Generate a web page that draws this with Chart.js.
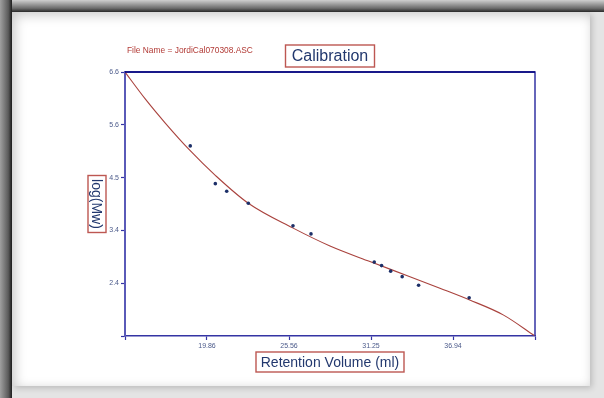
<!DOCTYPE html>
<html lang="en">
  <head>
    <meta charset="UTF-8" />
    <title>Calibration</title>
    <script src="https://cdn.jsdelivr.net/npm/chart.js"></script>
    <style>
      html, body { margin: 0; padding: 0; }
      body {
        width: 604px;
        height: 398px;
        position: relative;
        overflow: hidden;
        background: #e4e4e4;
        font-family: "Liberation Sans", Arial, sans-serif;
      }
      .band-left {
        position: absolute; left: 0; top: 0; width: 12px; height: 398px;
        background: linear-gradient(90deg, #a0a0a0, #5a5a5a 70%, #1e1e1e);
      }
      .band-top {
        position: absolute; left: 0; top: 0; width: 604px; height: 12px;
        background: linear-gradient(180deg, #cfcfcf, #6a6a6a 70%, #2a2a2a);
      }
      .panel {
        position: absolute; left: 12px; top: 12px; width: 578px; height: 374px;
        background: #fff;
        box-shadow: inset 3px 3px 12px rgba(0, 0, 0, 0.22), 2px 2px 6px rgba(0, 0, 0, 0.18);
      }
      #chart { position: absolute; left: 0; top: 0; }
    </style>
  </head>
  <body>
    <div class="band-top"></div>
    <div class="band-left"></div>
    <div class="panel"></div>
    <canvas id="chart" width="604" height="398"></canvas>

    <script>
      // measured standards (retention volume, log Mw)
      const standardVolumes = [18.70, 20.44, 21.23, 22.73, 25.83, 27.08, 31.47, 31.98, 32.61, 33.41, 34.55, 38.06];
      const standardLogMw = [5.13, 4.38, 4.23, 3.99, 3.54, 3.38, 2.82, 2.75, 2.64, 2.53, 2.36, 2.11];

      // calibration curve
      const curveVolumes = [14.17, 15.56, 16.95, 18.68, 20.42, 22.73, 25.81, 28.40, 31.17, 33.95, 36.03, 38.06, 40.42, 42.63];
      const curveLogMw = [6.6, 6.07, 5.59, 5.04, 4.55, 3.99, 3.50, 3.14, 2.83, 2.53, 2.30, 2.07, 1.77, 1.35];

      // axes
      const xMin = 14.17, xMax = 42.63;
      const xTickValues = [19.862, 25.554, 31.246, 36.938];
      const xTickLabels = ["19.86", "25.56", "31.25", "36.94"];
      const yMin = 1.35, yMax = 6.6;
      const yTickValues = [2.4, 3.45, 4.5, 5.55, 6.6];
      const yTickLabels = ["2.4", "3.4", "4.5", "5.6", "6.6"];

      const titleText = "Calibration";
      const fileText = "File Name = JordiCal070308.ASC";
      const xTitle = "Retention Volume (ml)";
      const yTitle = "log(Mw)";

      const FONT = '"Liberation Sans", Arial, sans-serif';
      const navy = "#22386e";
      const boxRed = "#bd5752";
      const axisBlue = "#3434a4";

      function boxedText(ctx, text, cx, cy, size, w, h, rot) {
        ctx.save();
        ctx.translate(cx, cy);
        if (rot) ctx.rotate(rot);
        ctx.fillStyle = "#fff";
        ctx.fillRect(-w / 2, -h / 2, w, h);
        ctx.strokeStyle = boxRed;
        ctx.lineWidth = 1.4;
        ctx.strokeRect(-w / 2, -h / 2, w, h);
        ctx.fillStyle = navy;
        ctx.font = size + "px " + FONT;
        ctx.textAlign = "center";
        ctx.textBaseline = "middle";
        ctx.fillText(text, 0, 1);
        ctx.restore();
      }

      const decorations = {
        id: "decorations",
        afterDraw(chart) {
          const ctx = chart.ctx;
          const a = chart.chartArea;
          const cx = (a.left + a.right) / 2;
          const cy = (a.top + a.bottom) / 2;

          // frame round the plot
          ctx.save();
          ctx.strokeStyle = axisBlue;
          ctx.lineWidth = 1.5;
          ctx.beginPath();
          ctx.moveTo(a.left, a.top);
          ctx.lineTo(a.right, a.top);
          ctx.lineTo(a.right, a.bottom);
          ctx.stroke();
          ctx.strokeStyle = "#00007a";
          ctx.beginPath();
          ctx.moveTo(a.left, a.top);
          ctx.lineTo(a.right, a.top);
          ctx.stroke();
          ctx.restore();

          ctx.save();
          ctx.fillStyle = "#b23b36";
          ctx.font = "8.4px " + FONT;
          ctx.textBaseline = "middle";
          ctx.fillText(fileText, 127, 51);
          ctx.restore();

          boxedText(ctx, titleText, cx, 56, 16, 89, 22, 0);
          boxedText(ctx, xTitle, cx, 362, 14, 148, 20, 0);
          boxedText(ctx, yTitle, 97, cy, 14, 57, 18, Math.PI / 2);
        },
      };

      const ctx = document.getElementById("chart").getContext("2d");

      new Chart(ctx, {
        type: "scatter",
        data: {
          datasets: [
            {
              label: "Calibration curve",
              data: curveVolumes.map((v, i) => ({ x: v, y: curveLogMw[i] })),
              showLine: true,
              borderColor: "#a9423d",
              borderWidth: 1.1,
              pointRadius: 0,
              cubicInterpolationMode: "monotone",
              order: 2,
            },
            {
              label: "Standards",
              data: standardVolumes.map((v, i) => ({ x: v, y: standardLogMw[i] })),
              backgroundColor: "#1c2f68",
              borderColor: "#1c2f68",
              pointRadius: 1.8,
              pointBorderWidth: 0,
              order: 1,
            },
          ],
        },
        options: {
          responsive: false,
          animation: false,
          devicePixelRatio: 1,
          layout: { padding: { top: 72, right: 69, left: 0, bottom: 0 } },
          plugins: {
            legend: { display: false },
            tooltip: { enabled: false },
          },
          scales: {
            x: {
              type: "linear",
              min: xMin,
              max: xMax,
              afterBuildTicks(scale) {
                scale.ticks = [xMin].concat(xTickValues, [xMax]).map((v) => ({ value: v }));
              },
              afterFit(scale) { scale.height = 62; },
              border: { color: axisBlue, width: 1.5 },
              grid: { drawOnChartArea: false, tickLength: 4, tickColor: axisBlue, tickWidth: 1.2 },
              ticks: {
                autoSkip: false,
                maxRotation: 0,
                padding: 2,
                color: "#4b5a8a",
                font: { family: FONT, size: 7 },
                callback(value) {
                  const i = xTickValues.findIndex((t) => Math.abs(t - value) < 1e-6);
                  return i < 0 ? "" : xTickLabels[i];
                },
              },
            },
            y: {
              type: "linear",
              min: yMin,
              max: yMax,
              afterBuildTicks(scale) {
                scale.ticks = [yMin].concat(yTickValues).map((v) => ({ value: v }));
              },
              afterFit(scale) { scale.width = 125; },
              border: { color: "#5a5ab8", width: 2 },
              grid: { drawOnChartArea: false, tickLength: 4, tickColor: axisBlue, tickWidth: 1.2 },
              ticks: {
                autoSkip: false,
                padding: 2,
                color: "#4b5a8a",
                font: { family: FONT, size: 7 },
                callback(value) {
                  const i = yTickValues.findIndex((t) => Math.abs(t - value) < 1e-6);
                  return i < 0 ? "" : yTickLabels[i];
                },
              },
            },
          },
        },
        plugins: [decorations],
      });
    </script>
  </body>
</html>
